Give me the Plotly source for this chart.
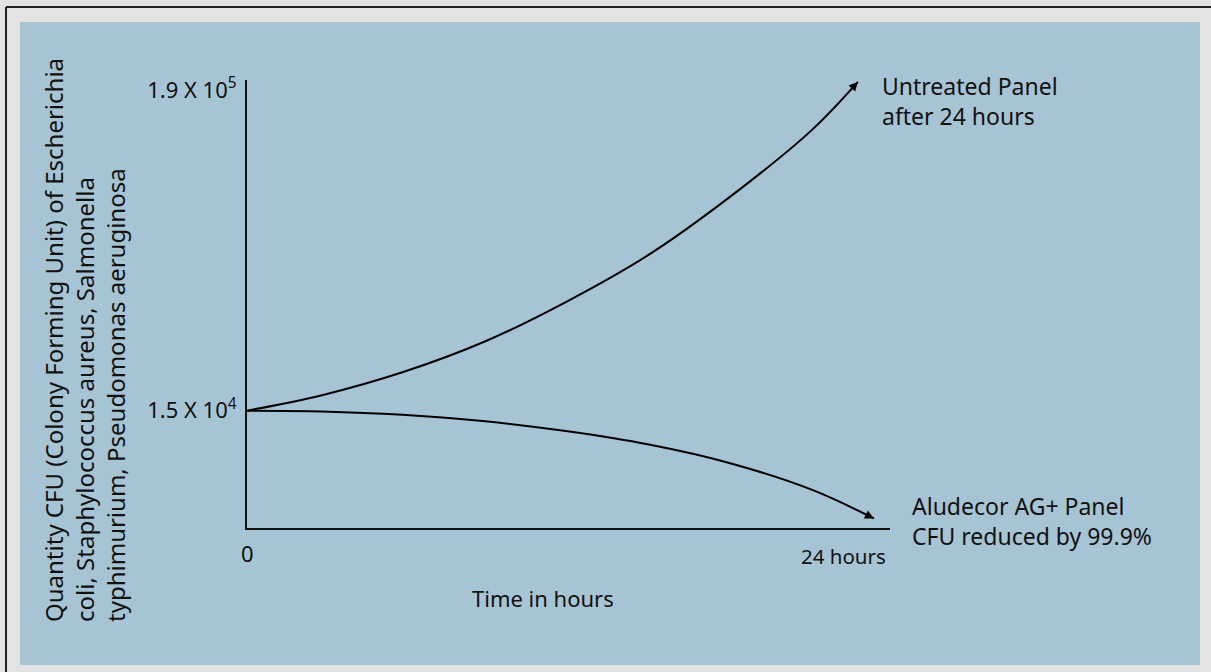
import math
import plotly.graph_objects as go

# ---- data ----
hours_untreated = [0, 2.8, 5.8, 8.9, 11.9, 15.0, 18.0, 21.1, 22.8]
cfu_untreated = [15000, 16960, 20330, 25990, 35440, 51580, 81160, 138800, 202500]

hours_treated = [0, 2.8, 5.8, 8.9, 11.9, 15.0, 18.0, 21.1, 23.4]
cfu_treated = [15000, 14910, 14520, 13790, 12760, 11470, 9915, 8010, 6390]

y_tick_vals = [15000, 190000]
y_tick_text = ["1.5 X 10<sup>4</sup>", "1.9 X 10<sup>5</sup>"]
x_tick_vals = [0, 24]
x_tick_text = ["0", "24 hours"]

label_untreated = "Untreated Panel<br>after 24 hours"
label_treated = "Aludecor AG+ Panel<br>CFU reduced by 99.9%"
x_title = "Time in hours"
y_title = ("Quantity CFU (Colony Forming Unit) of Escherichia<br>"
           "coli, Staphylococcus aureus, Salmonella<br>"
           "typhimurium, Pseudomonas aeruginosa")

# ---- layout geometry (pixels) ----
W, H = 1211, 672
L, R, T, B = 247, 890, 80, 528


def px_x(p):
    return (p - L) / (R - L)


def px_y(p):
    return (B - p) / (B - T)


FONT = "Noto Sans, Open Sans, sans-serif"
BLUE = "#a7c4d4"

fig = go.Figure()
for xs, ys in [(hours_untreated, cfu_untreated), (hours_treated, cfu_treated)]:
    fig.add_trace(go.Scatter(x=xs, y=ys, mode="lines",
                             line=dict(color="#000000", width=2, shape="spline", smoothing=1.0),
                             hoverinfo="skip", showlegend=False, cliponaxis=False))

annotations = []
# arrowheads at the curve ends
annotations.append(dict(x=hours_untreated[-1], y=math.log10(cfu_untreated[-1]), xref="x", yref="y",
                        ax=-9, ay=10, showarrow=True, arrowhead=2, arrowsize=1.2, arrowwidth=1.5,
                        arrowcolor="#000", text=""))
annotations.append(dict(x=hours_treated[-1], y=math.log10(cfu_treated[-1]), xref="x", yref="y",
                        ax=-12, ay=-6, showarrow=True, arrowhead=2, arrowsize=1.2, arrowwidth=1.5,
                        arrowcolor="#000", text=""))
# x tick labels
annotations.append(dict(x=x_tick_vals[0], y=px_y(553), xref="x", yref="paper", text=x_tick_text[0],
                        showarrow=False, xanchor="center", yanchor="middle",
                        font=dict(family=FONT, size=22, color="#111")))
annotations.append(dict(x=x_tick_vals[1], y=px_y(556), xref="x", yref="paper", text=x_tick_text[1],
                        showarrow=False, xanchor="right", yanchor="middle", xshift=-2,
                        font=dict(family=FONT, size=20.5, color="#111")))
# axis titles
annotations.append(dict(x=px_x(543), y=px_y(598), xref="paper", yref="paper", text=x_title,
                        showarrow=False, xanchor="center", yanchor="middle",
                        font=dict(family=FONT, size=22, color="#111")))
annotations.append(dict(x=px_x(84), y=px_y(340), xref="paper", yref="paper", text=y_title,
                        showarrow=False, xanchor="center", yanchor="middle", textangle=-90, align="left",
                        font=dict(family=FONT, size=24, color="#111")))
# curve labels
annotations.append(dict(x=px_x(880), y=px_y(101), xref="paper", yref="paper", text=label_untreated,
                        showarrow=False, xanchor="left", yanchor="middle", align="left",
                        font=dict(family=FONT, size=23, color="#111")))
annotations.append(dict(x=px_x(910), y=px_y(521), xref="paper", yref="paper", text=label_treated,
                        showarrow=False, xanchor="left", yanchor="middle", align="left",
                        font=dict(family=FONT, size=23, color="#111")))

shapes = [
    # blue panel
    dict(type="rect", xref="paper", yref="paper", x0=px_x(20), x1=px_x(1200), y0=px_y(665), y1=px_y(22),
         fillcolor=BLUE, line=dict(width=0), layer="below"),
    # outer frame lines
    dict(type="line", xref="paper", yref="paper", x0=px_x(6), x1=px_x(1215), y0=px_y(7), y1=px_y(7),
         line=dict(color="#222", width=2), layer="below"),
    dict(type="line", xref="paper", yref="paper", x0=px_x(6), x1=px_x(6), y0=px_y(7), y1=px_y(680),
         line=dict(color="#222", width=2), layer="below"),
]

fig.update_layout(
    width=W, height=H,
    margin=dict(l=L, r=W - R, t=T, b=H - B, pad=0),
    paper_bgcolor="#e3e3e3",
    plot_bgcolor="rgba(0,0,0,0)",
    showlegend=False,
    annotations=annotations,
    shapes=shapes,
    xaxis=dict(range=[0, 24], showgrid=False, zeroline=False, showline=True, linecolor="#111",
               linewidth=2, showticklabels=False, ticks="", fixedrange=True),
    yaxis=dict(type="log", range=[3.7727, 5.313], showgrid=False, zeroline=False, showline=True,
               linecolor="#111", linewidth=2, tickvals=y_tick_vals, ticktext=y_tick_text,
               ticks="", ticklabelstandoff=4,
               tickfont=dict(family=FONT, size=22, color="#111"), fixedrange=True),
)

fig.write_html("out.html", config={"displayModeBar": False},
               post_script="document.body.style.margin='0';document.body.style.overflow='hidden';")
